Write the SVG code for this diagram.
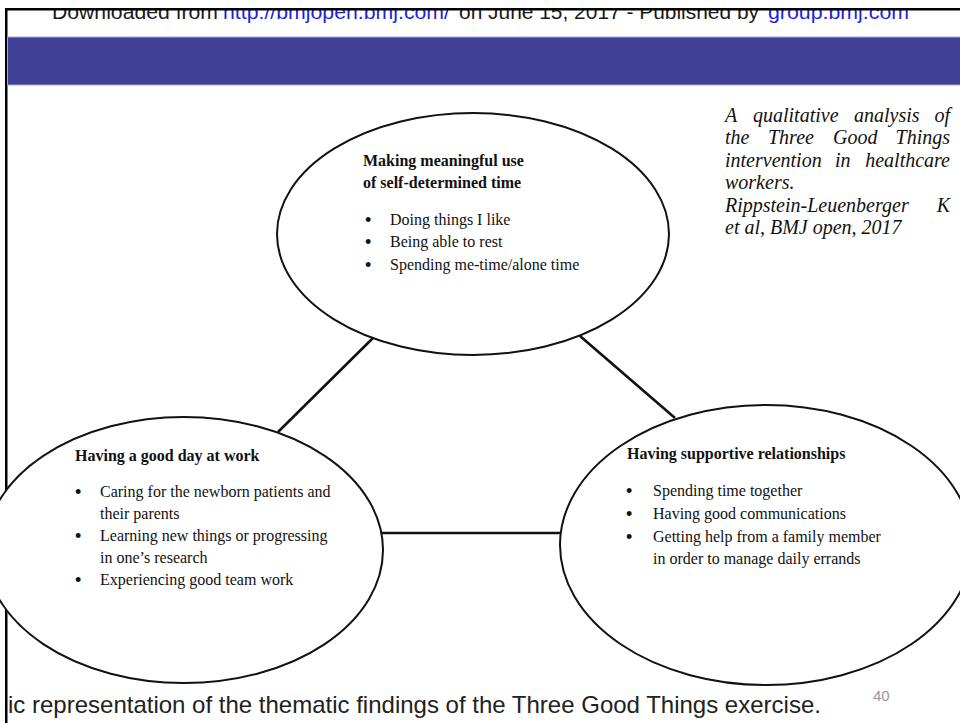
<svg xmlns="http://www.w3.org/2000/svg" width="960" height="723" viewBox="0 0 960 723">
<style>
.hdr{font-family:"Liberation Sans",Arial,sans-serif;font-size:21px;fill:#1a1a1a}
.lnk{fill:#1f1fe0}
.node{fill:#fff;stroke:#111;stroke-width:2}
.conn{stroke:#111;stroke-width:2.6;fill:none;stroke-linecap:butt}
.ttl{font-family:"Liberation Serif","Times New Roman",serif;font-size:16px;font-weight:bold;fill:#111}
.itm{font-family:"Liberation Serif","Times New Roman",serif;font-size:16px;fill:#111}
.bul{font-family:"Liberation Sans",Arial,sans-serif;font-size:18px;fill:#111}
.cit{font-family:"Liberation Serif","Times New Roman",serif;font-size:20px;font-style:italic;fill:#111}
.end{text-anchor:end}
.cap{font-family:"Liberation Sans",Arial,sans-serif;font-size:24px;fill:#222}
.pg{font-family:"Liberation Sans",Arial,sans-serif;font-size:15px;fill:#999}
</style>
<rect x="0" y="0" width="960" height="723" fill="#fff"/>
<g id="header">
<text class="hdr" x="52" y="19" textLength="166" lengthAdjust="spacingAndGlyphs">Downloaded from</text>
<text class="hdr lnk" x="223" y="19" textLength="227" lengthAdjust="spacingAndGlyphs">http://bmjopen.bmj.com/</text>
<text class="hdr" x="459" y="19" textLength="300" lengthAdjust="spacingAndGlyphs">on June 15, 2017 - Published by</text>
<text class="hdr lnk" x="768" y="19" textLength="141" lengthAdjust="spacingAndGlyphs">group.bmj.com</text>
<rect x="0" y="0" width="960" height="8" fill="#fff"/>
<rect x="5" y="8" width="955" height="2.5" fill="#000"/>
<rect x="5" y="8" width="2.5" height="715" fill="#000"/>
</g>
<g id="band">
<rect x="7.5" y="37" width="953" height="48" fill="#404096" stroke="#a9a9d4" stroke-width="1"/>
</g>
<g id="connectors">
<line class="conn" x1="373" y1="338" x2="278" y2="432"/>
<line class="conn" x1="580" y1="336" x2="675" y2="418"/>
<line class="conn" x1="381" y1="533" x2="560" y2="533"/>
</g>
<g id="node-top">
<ellipse class="node" cx="473" cy="234" rx="196" ry="121"/>
<text class="ttl" x="363" y="166">Making meaningful use</text>
<text class="ttl" x="363" y="188">of self-determined time</text>
<text class="bul" x="365" y="226">•</text><text class="itm" x="390" y="225">Doing things I like</text>
<text class="bul" x="365" y="248">•</text><text class="itm" x="390" y="247">Being able to rest</text>
<text class="bul" x="365" y="271">•</text><text class="itm" x="390" y="270">Spending me-time/alone time</text>
</g>
<g id="node-left">
<ellipse class="node" cx="184" cy="550" rx="199" ry="133"/>
<text class="ttl" x="75" y="461">Having a good day at work</text>
<text class="bul" x="75" y="498">•</text><text class="itm" x="100" y="497">Caring for the newborn patients and</text>
<text class="itm" x="100" y="519">their parents</text>
<text class="bul" x="75" y="542">•</text><text class="itm" x="100" y="541">Learning new things or progressing</text>
<text class="itm" x="100" y="563">in one’s research</text>
<text class="bul" x="75" y="586">•</text><text class="itm" x="100" y="585">Experiencing good team work</text>
</g>
<g id="node-right">
<ellipse class="node" cx="766" cy="545" rx="206" ry="140"/>
<text class="ttl" x="627" y="459">Having supportive relationships</text>
<text class="bul" x="626" y="497">•</text><text class="itm" x="653" y="496">Spending time together</text>
<text class="bul" x="626" y="520">•</text><text class="itm" x="653" y="519">Having good communications</text>
<text class="bul" x="626" y="543">•</text><text class="itm" x="653" y="542">Getting help from a family member</text>
<text class="itm" x="653" y="564">in order to manage daily errands</text>
</g>
<g id="citation">
<text class="cit" y="122"><tspan x="725">A</tspan><tspan x="753">qualitative</tspan><tspan x="854">analysis</tspan></text>
<text class="cit end" x="950" y="122">of</text>
<text class="cit" y="144"><tspan x="725">the</tspan><tspan x="768">Three</tspan><tspan x="833">Good</tspan></text>
<text class="cit end" x="950" y="144">Things</text>
<text class="cit" y="167"><tspan x="725">intervention</tspan><tspan x="835">in</tspan></text>
<text class="cit end" x="950" y="167">healthcare</text>
<text class="cit" x="725" y="189">workers.</text>
<text class="cit" x="725" y="212">Rippstein-Leuenberger</text>
<text class="cit end" x="950" y="212">K</text>
<text class="cit" x="725" y="234">et al, BMJ open, 2017</text>
</g>
<g id="caption">
<text class="cap" x="8" y="713">ic representation of the thematic findings of the Three Good Things exercise.</text>
<text class="pg" x="873" y="701">40</text>
</g>
</svg>
